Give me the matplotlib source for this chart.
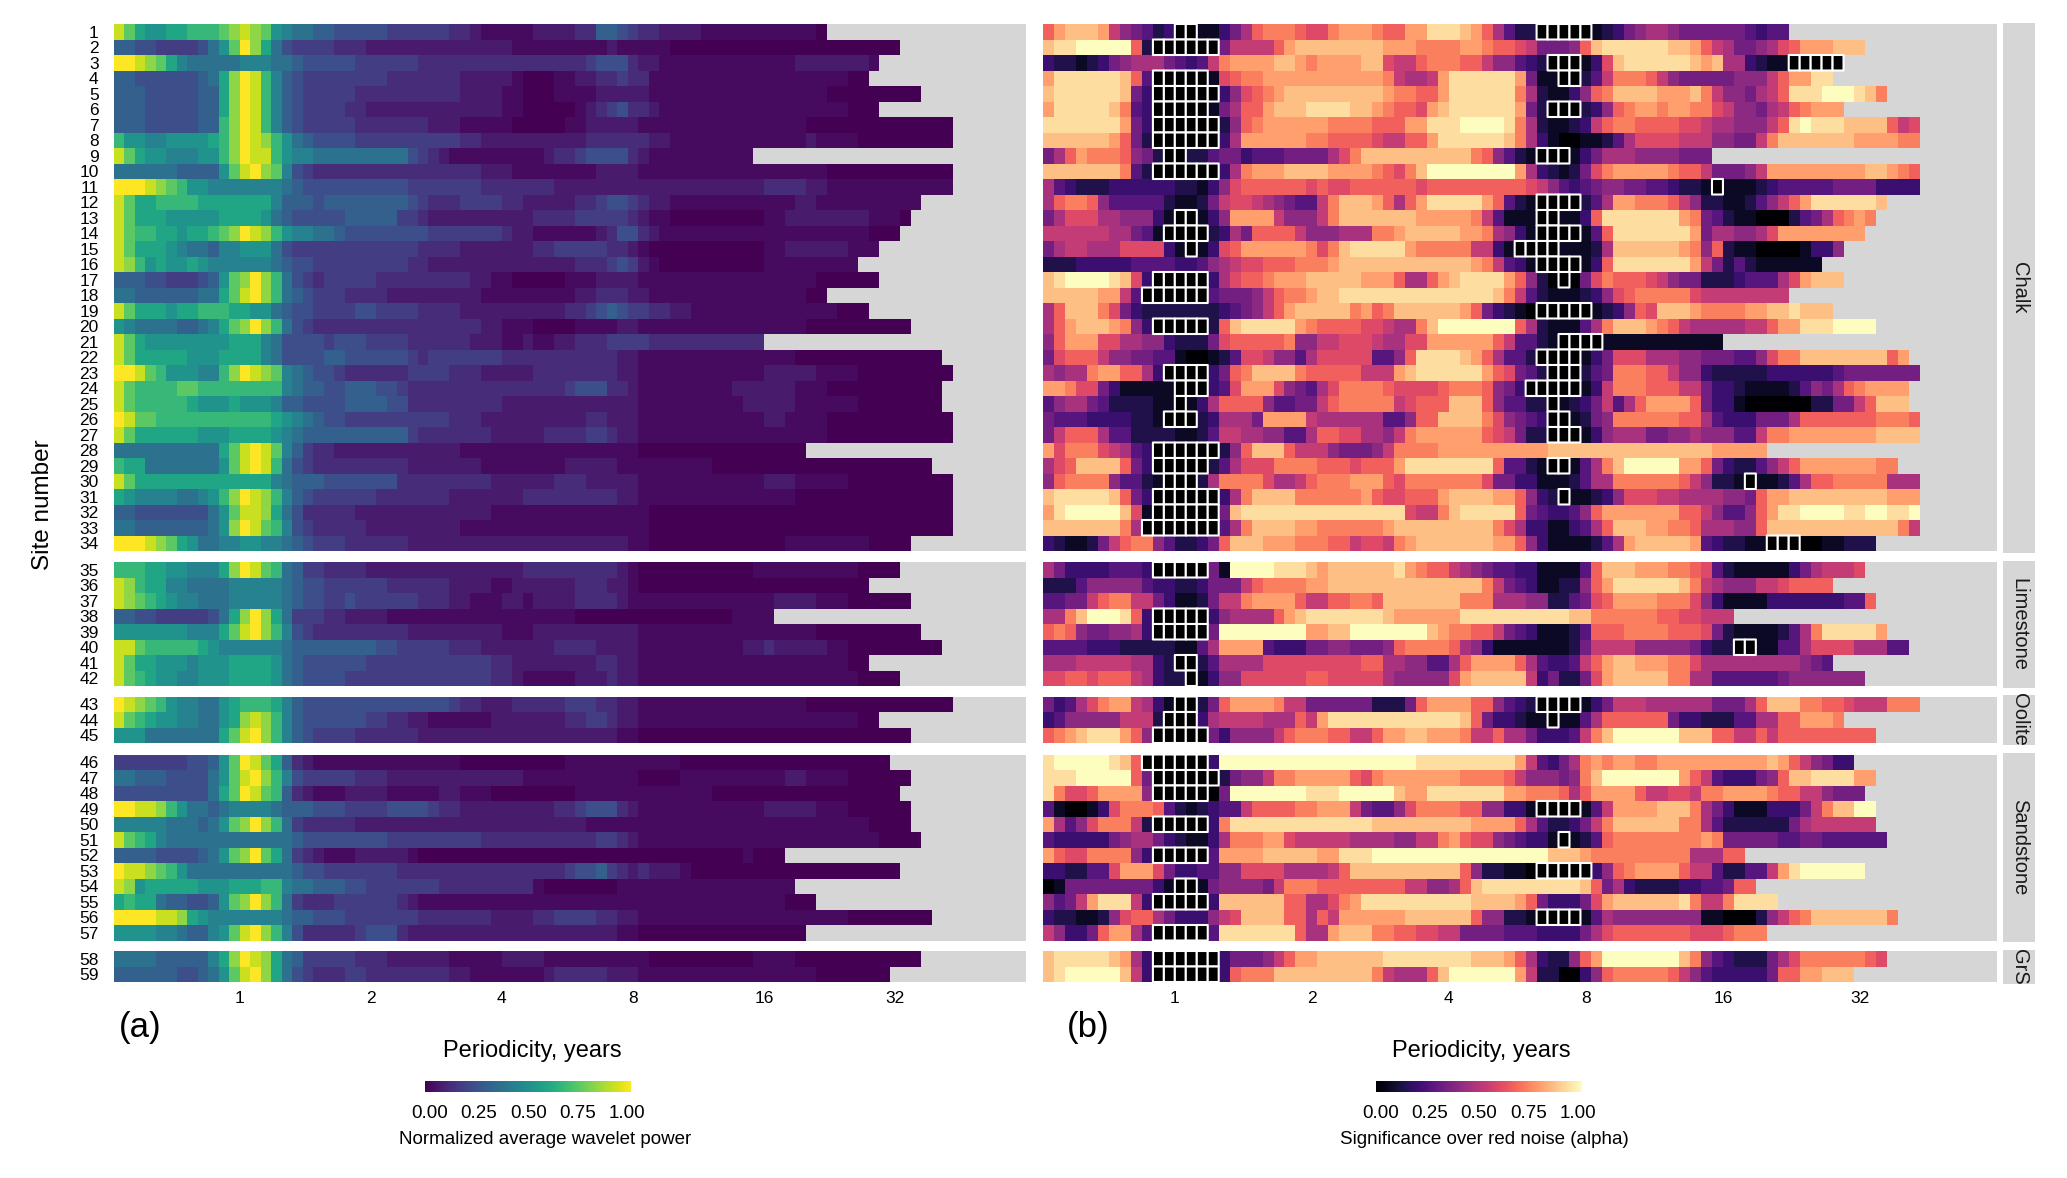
import numpy as np
import matplotlib
matplotlib.use("Agg")
import matplotlib.pyplot as plt
from matplotlib.cm import ScalarMappable
from matplotlib.colors import ListedColormap, Normalize

plt.rcParams['font.family'] = ['Liberation Sans', 'DejaVu Sans']

W, H = 2067, 1178

# facets: name, first site, last site
facet_names = ["Chalk", "Limestone", "Oolite", "Sandstone", "GrS"]
facet_first = [1, 35, 43, 46, 58]
facet_last = [34, 42, 45, 57, 59]

periods = [1, 2, 4, 8, 16, 32]
n_cols = 87
cells_per_octave = 12.5
col_of_one_year = 12

# number of periodicity cells that have data, per site
row_len = [68, 75, 73, 72, 77, 73, 80, 80, 61, 80, 80, 77, 76, 75, 73, 71, 73, 68, 72, 76,
           62, 79, 80, 79, 79, 80, 80, 66, 78, 80, 80, 80, 80, 76,
           75, 72, 76, 63, 77, 79, 72, 75,
           80, 73, 76,
           74, 76, 75, 76, 76, 77, 64, 75, 65, 67, 78, 66,
           77, 74]

# normalized power, one hex digit per cell, sites 1-59
power_rows = [
    "eca99aabbb cdedc98776 6555554444 4433211111 2222336654 3322221111 11111110",
    "6655444457 9cfda75444 4333222222 2222222211 1111111211 1110000000 0000000000 00000",
    "ffedca8777 7788877655 5554444443 3333333333 3333345553 2211111111 1111122222 221",
    "6655555567 adfeb86544 4444443333 3332222210 0011223343 3111111111 1111111111 00",
    "6665555566 adfeb86544 4443333333 3332222110 0011112222 2111111111 1111111100 0000000",
    "6665555566 adfeb86544 4433222222 2222222110 0000123453 3211111111 1111111111 000",
    "6665555566 bdfeb86544 4443333333 2221111100 0001122222 1111111111 1111110000 0000000000",
    "b99889999a bdfedb9765 5554444444 4443322222 2222233333 3221111111 1111112111 1000000000",
    "eca9988899 bdfeeb9887 7777777754 3211111111 1233455553 2111111111 1",
    "7777776666 9cefdc8543 3333333333 3333322211 1111112222 1111111111 1111111100 0000000000",
    "fffedcb998 8888887655 5555555544 4444433333 3322222222 2222222222 2233332211 1111111111",
    "ecaabbbbaa aaaaa86665 6666666654 3334444332 2222334554 3221111111 1111122111 1111111",
    "ecaaa99999 aaaa976555 5566666443 2222222222 3333444443 2110000000 0011222222 221110",
    "ecbbaa9aab cdfedb9887 7655555555 4444444322 1111112355 3211111111 1111111111 11000",
    "ecaaa98776 8899975444 4444444443 3332222222 3344444332 1000000000 0011222222 111",
    "edb9a99a98 8888876554 4444444433 2222222222 2222333454 2100000000 0011111111 1",
    "6665544456 9cdfdb7543 4444433333 3333221100 0001112222 1111111111 1111111000 000",
    "7766666677 acefdb7654 4433332222 2222211111 1111223332 2111111111 11111100",
    "ecaaa9aabb baa9976554 4445544443 3332222222 2223345654 4332211111 1111111110 00",
    "9877776678 acdfdb7543 3333333333 3333322111 0000111122 1111111111 1111110000 000000",
    "eca9999999 9aaa875555 4555444433 3333222112 1122333444 4333333333 33",
    "ecaaaaa999 aaaa875555 6655555543 4444444333 3333333322 1111111111 1111100000 000000000",
    "ffecb99988 bdfedc8765 5433333344 4433322222 3333333322 1111111111 1122222111 1000000000",
    "ecbbbbccbb bbbbbb8766 5566655433 3333333333 3334555332 1111111112 2222211100 000000000",
    "ecbbbbba99 9a99986655 5566665533 3333333222 2222222222 1111111111 2222211111 100000000",
    "feccbbbbbb bbbbba9876 5544444444 4433322222 2222233222 1111111111 1122111100 0000000000",
    "ecaaaaaa99 9aaaa98766 6666666643 3333332222 2333344322 1111111111 1111111100 0000000000",
    "7777777777 acefec8643 3222222222 2221111111 1111111111 0000000000 000000",
    "baa7777777 9cefeb7543 3333333322 2222211111 1112222211 1111111000 0000000000 00000000",
    "ecaaaaaaaa aaaaa87666 5555555333 3333332222 2233322222 1111111111 1122211111 0000000000",
    "a988887789 bdfedb8654 4444433333 3322222223 3333333322 1111111111 1111100000 0000000000",
    "6655555557 9ceeda7533 3332222222 2222221111 1111111111 1000000000 0000000000 0000000000",
    "7766666667 9dfecb8543 3333222222 2221111111 1111111111 1000000000 0000000000 0000000000",
    "fffedca977 8899887654 4433333322 2222222222 2222222221 1000000000 0000111111 110000",
    "bbbaa99888 adfecb7644 3333222222 2222222223 3333333321 0000000000 0111111111 10000",
    "edbaa88777 7888887655 4444443333 3322221122 2222333221 0000000000 0000000000 00",
    "edcba98877 7888887655 4454444443 3322111221 2222333321 1111111111 1112222111 000000",
    "6655444445 7adfda7444 3322221111 1111111111 1111000000 0000000001 111",
    "9999999888 acefdb8543 3333333322 2222222111 2222222222 1111111111 1111111000 0000000",
    "eecbbbbba9 8888887666 6666655444 4433322222 2233332222 1111111111 2232222211 000000000",
    "ecaa999899 9aaaa97655 5555444444 4444443322 2222223322 1111111111 1111111111 00",
    "ecba998899 9aaaa97655 5544444444 4444443321 1111222322 1111111111 1111111111 10000",
    "fedcb98877 9abbba8655 5555555555 5543322233 3334443322 1111111111 1111110000 0000000000",
    "ecba998877 9adedb8655 5555443322 1111112222 2223344322 1111111111 1111111111 100",
    "9997777777 acefdb8654 4443333332 2222222222 2222222211 0000000000 0000000000 000000",
    "4444444556 9cfeca6321 1111111111 1110000000 0001111111 1111000000 0000000000 0000",
    "7766655557 9cefdb8544 4443332222 2222222221 1111111111 0000111111 1111221111 000000",
    "5555555557 acfecb6321 1122221111 1221110000 0000111111 1111111000 0000000000 00000",
    "ffeedb9776 7888876665 5544445555 4332222222 2233455532 1111111111 1122222111 000000",
    "8888877767 9cdfdb7433 3332222222 2222222222 2222211111 1111111111 1111111111 110000",
    "ecba877777 7777777655 5555554444 4444433333 3333334432 1111111111 1111111111 1110000",
    "6666555567 9cdfca7432 1112222210 0000000000 0000000000 0000000000 1000",
    "feedcb9777 7777777655 4444444333 3333333333 3334556432 3222100000 0000000000 00000",
    "ed9aaaaa99 9aaabb8776 6655444444 4333333333 1000000011 1111111111 11111",
    "abaa766556 9cdfdb7433 3444444321 1111111111 1111111111 1111111111 1111000",
    "ffffeeda98 8888887665 5544444443 3333332222 3344443322 1111111111 1111111111 00000000",
    "9999887668 9cefdb8533 3334555322 2222222222 2222222211 0000000000 000000",
    "7777666668 adfeda7644 4443332222 2211111222 2111111111 1000000000 0111100000 0000000",
    "6666665567 9cefda7543 3344333333 3322111111 1233333222 1111111111 1111111000 0000",
]

# significance over red noise, same coding
alpha_rows = [
    "acdddc8654 230011357a bbba99bccc baacceeedc a742200000 1235677655 55554344",
    "deefffffa2 0000005888 8acddddddd dcccbbbbcc baa985556a deeeeeeddc a875567 9ac ccddd",
    "3221235677 754348bccc cddcbccccd d988abbbaa 8664320001 39deeeeeed cd77321100 000",
    "ceeeeeeda4 0000019abb cccccccccc cb8778ceee eeec511002 48bbba8655 5556668acc ee",
    "deeeeeed53 000000369a bcdddddddd dcbbaaceee eeeb721136 abddddcccd b8665 78aee efffedb",
    "ceeeeedb43 0000015 7aa cdddeeeedd cbaa9cdeee eeec520002 36abccbccb b98665 78ab ccc",
    "eeeeeeec53 00000026ab ccccccbbbb aaacceeeff ffeb721123 8abbaaaa99 8776668aef eeedddda89",
    "ddddddca52 00000037cc ccccbbaaaa 9 88aacee ee eedb731001 1247999988 8665 58bddd ddddccccbb",
    "57acbbba65 2002245534 445 5557 9bd dddddddddb a642100013 5777666655 5",
    "dddddddb42 00000037bc ccddddcccc ba9bdfffff fffc732125 9bcccccbaa 8555 68cccc cccccddcba",
    "7432223333 332213 69aa aaaa9a99aa aaaa9aaaaa aaaa986434 5665544322 1011123444 4455553333",
    "7abba64444 4211258998 7654 48bddd ca7aceeeee ca42100002 47ccbbba86 2211246 8ac eeeeeed",
    "5799977666 3100136ccc c866 68bddd ddddcccccb 8411100113 aeeeeeeecb 5421100024 57abcb",
    "8888887754 100002375a aaa8666777 bbcdddddcc b763100001 4aeeeeeeec 5776 679ccc ccccc",
    "5788777999 9310139acc ccccb9bdee eeecbbbbb8 8310000111 27ddddddcb 6a21100001 336",
    "2223333344 4433467899 aaabbbcddd dddddddddc b843100001 3aeeeeeeec 8524211111 1",
    "deffffed93 0000037 9aa bcccdddddc cca77acdee eeca620305 9baaa98655 2223444 79c ddd",
    "dddddcc840 0000045556 8abbcddeee eeeeeeeeee edb8421112 369abbbbb9 88888888",
    "7addd b953 2 222222345 68acdddddb cabddddddc a532100000 11236a9ddd cbbbbccdde dd",
    "7acdddcb63 000002adee eeecbaaaa9 98 77bdffff fffa721114 7bdddcba87 7777 88acce eeffff",
    "6accc99776 632225 9aaa aab668 8999 8779 9ccccc ca84421000 0111111111 11",
    "59aaa86655 4410012499 866479 9999 446ae eeedc a744200001 3599977766 5554469bbd ddddddda c",
    "7677bcca a7 3000035abd dddbaaaaa8 88cdeeeeee ca954200 02 45bbbaa866 3222223333 3345555555",
    "ccb9953111 1100034 9cc c9654 79bbb ba9999abbb a653000001 38bbbaaa88 5332111124 657abcccc",
    "4677542222 1101 37aaaa 644558abbb bb89aaaddd a644220123 5847accc ca 5331000000 2255 8addd",
    "5444333322 1000237775 cccc877777 7446aadddd b965 430012 56bbbbbbaa 743335557a aaaaaabbba",
    "58aaa74422 2211248877 6644 7aa997 768bcccccc a985 220001 36777 55667 6664 48bbcc ccccccdddd",
    "c9bbb98743 0000002 6ad dda88865 55 68bbbbcccc ccccccdddd dddddddddd dccccc",
    "79adddda53 000002479 9 9bbbbaaa9a aaceeeeeee ea44210014 7bdfffffcc a53224 68ac ccccccbb",
    "6abbbb6442 1000 27bbbb 977 8abbbcc ca9bbbbbbb 9553311124 77bbbbbba8 6221011247 aabbbbb777",
    "deeeeeda53 00000037bd dddbbbbbbc a99aaacddd dcca632011 2369998877 77665 acc dd dddddddccc",
    "cefffffd91 0000005dee eeeeeeeeee eee988bdee eeea543346 accccccca a 8644 6aceef fffeeffeef",
    "dddddddb70 00000047bd dddccbbbbb bcdddddddd db97331134 7adddccbba 77766addddd dddddddb88",
    "3211258abb 6422 35addd cccbbbaa89 98bcdddddd dcca631111 247cdddddc 4322110000 011222",
    "7533334443 0000051fff feeedcdddd ddecbaa876 5443311114 adddcccbba 9421111135 78889",
    "2224666664 3322355 58a bbbbccdddd dddddddddd b854311226 aceeeeeedb 8766688 9aa aa",
    "4455 8abb88 5311258 8bc ccca88aabb adddddddbb b777662245 9accccbbb9 6311113333 33344a",
    "77bdfffea3 0000036777 7acdeeeeee edcccccc ee eeeeeeeedd bbbbbbaa99 888",
    "aba6556673 000005ffff ffffccddff fffffdcbba a854311124 aaabbbbaaa 9521111247 beeeeec",
    "4444333222 221147cccc 4333556655 56abbbba76 3111111125 8888666665 3220011447 999977744",
    "7778888877 320024 7777 999999999a a77 6644 7ac ccca743348 acddcccbb9 7777777776 54",
    "99aa9aaa87 3220136699 9999aa9999 9766666 9cd dddd835225 9cdddddbb7 7444444566 66666",
    "5347 9bcc87 3100 25accc cb88555555 222 5acccca a64 320000 1 3588877777 7555 7addd b baa9888bbb",
    "3466666888 2000378888 777a8ceeee eeeeeeeeda 5332110114 7aaaaaa533 2224477aac ccb",
    "abcdeeeca6 0000053666 68abbbaa88 accddcccb8 8a77533348 bdffffffdd daa88a8aaa aaaaaa",
    "efffffeda3 00000 3ffff ffffffffff ffffeeeeee eeec843 57b cbccbbcccc ccccccdca8 65333",
    "eeefffffa5 0000002566 8bbccccca9 bcccccccbb bba8666 56b dfffffffca 8433356add eeeecc",
    "eb99acccc6 0000005fff ffffeeefff ffdcceeeee eeccbbba7a cccca88998 bbccccbaa8 86555",
    "4100 139bbb a421234 48a aaabbccc85 4469bbbbaa 6633100001 48ccccdddb 7531113335 8bddff",
    "c7469bbb82 000003beee eeeeeeeeee dddddddddc ccca742235 8bdddddd bb 7422222257 888888",
    "4333335677 5321137bbb cc98888877 776688bca9 9654331012 4abbbbbbbb cb55555445 5444444",
    "ca99bbbb63 000004cccc dddddcceee ffffffffff ffffffdddc bbbbbbbbb7 77aa",
    "3322449ccc 9533446699 9977778add dddddddda6 2211000000 36abcccca8 8422448cef ffff f",
    "0155555555 3100156666 58bbbaaaaa aaa8866 7ad eeeeeeeeed a573222233 44 5aa",
    "6458ceee83 000003dddd ddaa779bce eeeeeeeeed dddca53335 9cddddddeb 88beeee",
    "3221126 9aa 7533368 9dd ddaa7a8ccc cccddddd da 6622100001 4766666666 1100026 8ab dddddddb",
    "86335acc74 000004eeee eeea77cddd bbaa998855 5544433335 79aaaaaaa9 99abbb",
    "deeeeedc73 0000003555 68accddddd deeeeeeeed ddca732 26a cfffffffdb 6432225 79b bbbbba9",
    "defffffd83 0000003abb bddddddddd b8777adfff fffc822003 6abbbbba86 4333335aac cdddd",
]

# runs of significant cells per site: site -> (first cell, number of cells)
sig_runs = {
    1: [(12, 2), (45, 5)], 2: [(10, 6)], 3: [(46, 3), (68, 5)], 4: [(10, 5), (47, 2)],
    5: [(10, 6)], 6: [(10, 5), (46, 3)], 7: [(10, 6)], 8: [(10, 6)], 9: [(11, 2), (45, 3)],
    10: [(10, 6)], 11: [(61, 1)], 12: [(45, 4)], 13: [(12, 2), (45, 2)], 14: [(11, 4), (45, 4)],
    15: [(13, 1), (43, 4)], 16: [(45, 4)], 17: [(10, 5), (47, 1)], 18: [(9, 6)],
    19: [(45, 5)], 20: [(10, 5)], 21: [(47, 4)], 22: [(45, 4)], 23: [(11, 4), (46, 3)],
    24: [(12, 3), (44, 5)], 25: [(12, 1), (46, 1)], 26: [(11, 3), (46, 2)], 27: [(46, 3)],
    28: [(10, 6)], 29: [(10, 5), (46, 2)], 30: [(11, 3), (64, 1)], 31: [(10, 6), (47, 1)],
    32: [(10, 6)], 33: [(9, 7)], 34: [(66, 3)],
    35: [(10, 5)], 38: [(10, 5)], 39: [(10, 5)], 40: [(63, 2)], 41: [(12, 2)], 42: [(13, 1)],
    43: [(12, 2), (45, 4)], 44: [(11, 3), (46, 1)], 45: [(10, 5)],
    46: [(9, 6)], 47: [(10, 6)], 48: [(10, 5)], 49: [(45, 4)], 50: [(10, 5)], 51: [(47, 1)],
    52: [(10, 5)], 53: [(45, 5)], 54: [(12, 2)], 55: [(10, 5)], 56: [(45, 4)], 57: [(10, 5)],
    58: [(10, 6)], 59: [(10, 6)],
}


def decode(rows, gamma=1.0):
    out = np.full((len(rows), n_cols), np.nan)
    for i, r in enumerate(rows):
        # keep hex digits only, rows were typed in blocks of ten
        s = [c for c in r if c in "0123456789abcdef"]
        n = row_len[i]
        s = (s + [s[-1]] * n)[:n]
        out[i, :n] = [(int(c, 16) / 15) ** gamma for c in s]
    return out


# the power digits were read a bit high in the dark end
power = decode(power_rows, gamma=1.3)
alpha = decode(alpha_rows)

sig = np.full(alpha.shape, np.nan)
for site, runs in sig_runs.items():
    for start, count in runs:
        sig[site - 1, start:start + count] = 1
        alpha[site - 1, start:start + count] = 0

GREY = "#d6d6d6"
row_h = 15.5
facet_tops = [24, 562, 696.5, 754.5, 951]


def px_axes(fig, x0, y0, x1, y1):
    return fig.add_axes([x0 / W, 1 - y1 / H, (x1 - x0) / W, (y1 - y0) / H])


def ftext(fig, x, y, s, **kw):
    kw.setdefault('ha', 'center')
    kw.setdefault('va', 'center')
    fig.text(x / W, 1 - y / H, s, **kw)


def draw_panel(fig, values, cmap, x0, x1, labels, boxes=None):
    edges = (np.arange(n_cols + 1) - col_of_one_year) / cells_per_octave
    for k, name in enumerate(facet_names):
        first, last = facet_first[k], facet_last[k]
        top = facet_tops[k]
        ax = px_axes(fig, x0, top, x1, top + (last - first + 1) * row_h)
        ax.set_facecolor(GREY)
        ys = np.arange(first - 0.5, last + 1)
        block = np.ma.masked_invalid(values[first - 1:last])
        ax.pcolormesh(edges, ys, block, cmap=cmap, vmin=0, vmax=1, shading='flat', rasterized=True)
        if boxes is not None:
            mask = np.ma.masked_invalid(boxes[first - 1:last])
            ax.pcolor(edges, ys, mask, cmap=ListedColormap(['black']),
                      edgecolors='white', linewidths=1.5)
        ax.set_xlim(edges[0], edges[-1])
        ax.set_ylim(last + 0.5, first - 0.5)
        for s in ax.spines.values():
            s.set_visible(False)
        if labels:
            ax.set_yticks(np.arange(first, last + 1))
            ax.set_yticklabels([str(i) for i in range(first, last + 1)], fontsize=12.5)
        else:
            ax.set_yticks([])
        ax.tick_params(axis='y', length=0, pad=11)
        if k == len(facet_names) - 1:
            ax.set_xticks(np.log2(periods))
            ax.set_xticklabels([str(p) for p in periods], fontsize=12.5)
            ax.tick_params(axis='x', length=0, pad=6.5)
        else:
            ax.set_xticks([])


def draw_legend(fig, cmap, x0, x1, title, title_x):
    cax = px_axes(fig, x0, 1081, x1, 1092)
    sm = ScalarMappable(norm=Normalize(-0.025, 1.022), cmap=cmap)
    cb = fig.colorbar(sm, cax=cax, orientation='horizontal', ticks=[0, 0.25, 0.5, 0.75, 1])
    cb.ax.set_xticklabels(['0.00', '0.25', '0.50', '0.75', '1.00'], fontsize=13.5)
    cb.ax.tick_params(length=0, pad=9)
    cb.outline.set_visible(False)
    ftext(fig, title_x, 1139, title, fontsize=13.5)


fig = plt.figure(figsize=(W / 100, H / 100), dpi=100)

draw_panel(fig, power, 'viridis', 114, 1026, True)
draw_panel(fig, alpha, 'magma', 1043.3, 1997, False, boxes=sig)

# facet strips
for k, name in enumerate(facet_names):
    top = facet_tops[k]
    h = (facet_last[k] - facet_first[k] + 1) * row_h
    ax = px_axes(fig, 2003.3, top - 1.5, 2035, top + h + 1.5)
    ax.set_facecolor(GREY)
    ax.set_xticks([])
    ax.set_yticks([])
    for s in ax.spines.values():
        s.set_visible(False)
    ax.text(0.5, 0.5, name, rotation=-90, ha='center', va='center',
            transform=ax.transAxes, fontsize=14.5, color='#1a1a1a')

ftext(fig, 43, 505, "Site number", rotation=90, fontsize=17.5)
ftext(fig, 532, 1051, "Periodicity, years", fontsize=17)
ftext(fig, 1481, 1051, "Periodicity, years", fontsize=17)
ftext(fig, 140, 1028, "(a)", fontsize=25)
ftext(fig, 1088, 1028, "(b)", fontsize=25)

draw_legend(fig, 'viridis', 425, 631, "Normalized average wavelet power", 545)
draw_legend(fig, 'magma', 1375.7, 1581.8, "Significance over red noise (alpha)", 1484)

fig.savefig("out.png", dpi=100)
